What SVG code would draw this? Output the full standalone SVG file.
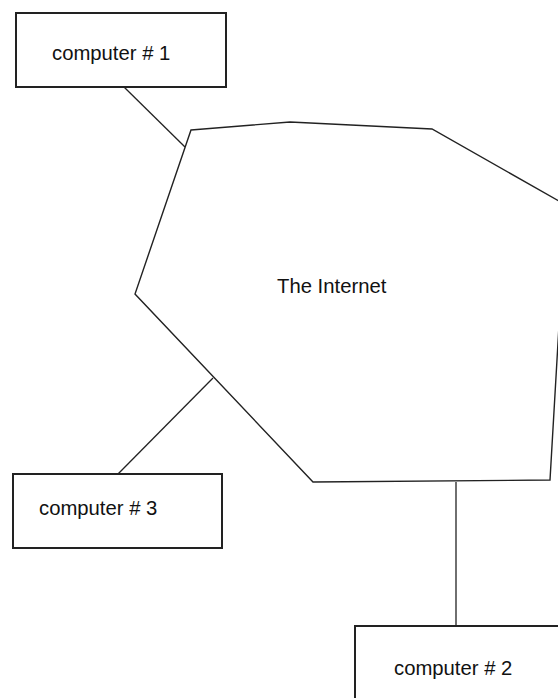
<svg xmlns="http://www.w3.org/2000/svg" width="558" height="698" viewBox="0 0 558 698">
<style>
.box{fill:#fff;stroke:#222;stroke-width:2}
.cloud{fill:#fff;stroke:#222;stroke-width:1.4;stroke-linejoin:miter}
.link{fill:none;stroke:#222;stroke-width:1.3}
.lbl{font-family:"Liberation Sans",Arial,sans-serif;font-size:20.3px;fill:#111}
</style>
<rect width="558" height="698" fill="#fff"/>
<g id="internet">
<polygon class="cloud" points="191,130 290,122 432,129 566,205 550,480 313,482 135,294"/>
<text class="lbl" x="277" y="293">The Internet</text>
</g>
<g id="connectors">
<line class="link" x1="124" y1="87" x2="185" y2="147"/>
<line class="link" x1="213" y1="378" x2="118" y2="474"/>
<line class="link" x1="456" y1="482" x2="456" y2="626"/>
</g>
<g id="computer1">
<rect class="box" x="16" y="13" width="210" height="74"/>
<text class="lbl" x="52" y="60">computer # 1</text>
</g>
<g id="computer3">
<rect class="box" x="13" y="474" width="209" height="74"/>
<text class="lbl" x="39" y="515">computer # 3</text>
</g>
<g id="computer2">
<rect class="box" x="355" y="626" width="215" height="85"/>
<text class="lbl" x="394" y="675">computer # 2</text>
</g>
</svg>
